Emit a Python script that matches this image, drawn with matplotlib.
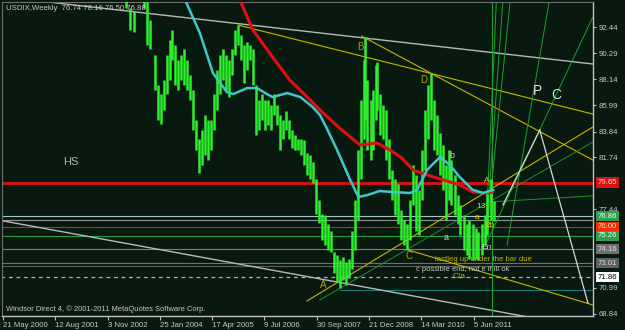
import matplotlib
matplotlib.use('Agg')
import matplotlib.pyplot as plt

plt.rcParams['font.family'] = ['Liberation Sans', 'DejaVu Sans']

# weekly bars (index = weeks since 21 May 2000), high / low
bars = [140, 150, 155, 160, 166, 172, 176, 180, 186, 190,
        193, 197, 201, 204, 207, 210, 214, 218, 222, 225,
        229, 233, 236, 240, 244, 247, 251, 255, 258, 262,
        266, 269, 273, 277, 280, 284, 288, 291, 295, 299,
        302, 306, 310, 313, 317, 321, 324, 328, 332, 335,
        339, 343, 346, 350, 354, 357, 361, 365, 368, 372,
        376, 379, 383, 387, 390, 394, 398, 401, 405, 409,
        412, 416, 420, 423, 427, 431, 434, 438, 442, 443,
        446, 450, 453, 457, 458, 461, 465, 469, 472, 476,
        480, 483, 487, 491, 494, 498, 502, 505, 509, 513,
        516, 520, 524, 527, 531, 535, 538, 542, 546, 549,
        553, 557, 560, 564, 568, 571, 575, 579, 582, 586,
        590, 593, 597, 601]
highs = [98.0, 96.5, 94.0, 93.8, 96.0, 95.5, 94.5, 93.0, 90.1, 87.7,
         86.9, 88.1, 90.1, 91.4, 92.2, 91.0, 89.7, 90.1, 90.6, 89.7,
         88.5, 87.3, 84.8, 83.2, 84.0, 85.2, 84.8, 84.8, 86.9, 88.9,
         90.1, 90.6, 90.1, 89.7, 90.6, 92.2, 92.6, 91.8, 91.0, 91.2,
         91.0, 90.6, 87.7, 86.4, 86.9, 86.4, 86.4, 86.0, 86.9, 86.0,
         85.2, 84.8, 85.5, 84.8, 84.0, 83.6, 83.2, 83.2, 83.15, 82.1,
         81.9, 81.3, 79.9, 78.2, 77.1, 77.0, 76.2, 75.7, 73.9, 73.7,
         73.3, 73.5, 73.1, 73.4, 75.7, 78.2, 82.3, 86.4, 89.7, 91.6,
         88.1, 86.4, 87.3, 89.3, 89.6, 86.9, 86.0, 85.6, 83.2, 80.7,
         79.9, 79.5, 77.4, 76.6, 76.2, 78.2, 81.1, 80.3, 79.0, 82.3,
         85.6, 87.7, 88.7, 86.4, 85.2, 83.7, 82.7, 81.1, 82.3, 81.5,
         80.3, 78.6, 77.8, 77.0, 76.2, 76.6, 76.2, 75.9, 75.6, 76.2,
         77.0, 79.0, 79.9, 78.16]
lows = [95.5, 94.0, 92.2, 92.0, 94.6, 94.0, 91.0, 90.6, 87.3, 84.8,
        84.5, 85.6, 86.9, 88.1, 89.7, 87.7, 87.3, 88.1, 87.7, 87.3,
        86.4, 84.0, 82.3, 80.4, 81.1, 81.9, 81.5, 82.3, 84.0, 85.6,
        86.9, 88.1, 87.3, 86.7, 88.5, 90.1, 91.0, 89.7, 87.8, 88.9,
        89.7, 87.7, 83.6, 84.0, 84.8, 84.0, 84.4, 84.0, 85.2, 84.4,
        82.3, 83.2, 84.0, 83.2, 82.5, 82.3, 82.3, 81.9, 81.1, 80.3,
        79.9, 79.6, 77.1, 76.3, 74.9, 74.5, 74.1, 73.9, 72.2, 71.5,
        71.0, 71.6, 71.2, 71.8, 72.5, 74.1, 76.6, 79.9, 83.2, 84.8,
        82.3, 81.5, 82.3, 84.8, 85.6, 83.6, 83.2, 81.5, 79.9, 78.2,
        77.0, 76.2, 74.9, 74.5, 74.1, 74.9, 77.8, 75.7, 75.3, 78.2,
        80.7, 83.2, 84.8, 82.3, 81.9, 80.3, 79.0, 76.6, 78.2, 77.8,
        77.0, 76.2, 75.3, 74.1, 73.7, 73.4, 73.3, 73.4, 73.3, 73.7,
        74.5, 75.3, 76.6, 76.50]

# moving averages
ma_fast_x = [223, 241, 257, 274, 282, 299, 311, 323, 330, 348, 364, 379, 388,
             395, 409, 425, 435, 446, 461, 477, 498, 507, 519, 535, 547, 559,
             575, 588, 600]
ma_fast_y = [94.66, 91.95, 88.66, 87.09, 86.93, 87.42, 87.42, 86.93, 86.68,
             87.01, 86.68, 85.86, 85.20, 84.30, 82.32, 79.86, 78.46, 78.62,
             78.95, 78.87, 78.79, 79.04, 80.68, 81.75, 81.09, 80.10, 79.04,
             78.79, 79.04]
ma_slow_x = [290, 306, 330, 351, 376, 388, 412, 437, 458, 474, 488, 502, 519,
             539, 559, 575, 588, 599]
ma_slow_y = [94.66, 92.19, 89.97, 88.08, 86.44, 85.61, 84.13, 82.74, 82.90,
             82.32, 81.67, 80.68, 80.27, 79.86, 79.45, 78.87, 78.79, 78.87]

# horizontal levels: price, colour, width, style, first bar
levels = [
    (79.65, '#e01010', 2.0, '-', -2),
    (76.86, '#a8c8c8', 0.8, '-', -2),
    (76.60, '#909090', 0.8, '-', -2),
    (76.00, '#d02020', 0.8, '-', -2),
    (75.26, '#20a040', 0.8, '-', -2),
    (74.16, '#808080', 0.8, '-', -2),
    (73.01, '#707070', 0.8, '-', -2),
    (72.80, '#606060', 0.8, '-', -2),
    (71.86, '#b0b0b0', 0.9, (0, (3, 3)), -2),
    (70.81, '#1a7a7a', 0.8, '-', 412),
]

# trend lines: (bar0, price0), (bar1, price1), colour, width
trendlines = [
    ((-1.2, 94.93), (722, 89.40), '#b8b8b8', 1.0),
    ((-1.2, 76.51), (650, 68.50), '#b8b8b8', 1.0),
    ((288, 92.60), (722, 85.28), '#c8b400', 0.8),
    ((439, 91.70), (722, 81.50), '#c8b400', 0.8),
    ((372, 69.90), (722, 84.22), '#c8b400', 0.8),
    ((496, 74.10), (722, 69.58), '#c8b400', 0.8),
    ((388, 70.00), (722, 82.98), '#1f8f2f', 0.7),
    ((595, 78.05), (722, 78.55), '#1f8f2f', 0.7),
    ((590.5, 74.5), (604, 94.7), '#1f9f2f', 0.7),
    ((590.5, 74.5), (612, 94.7), '#1f9f2f', 0.7),
    ((590.5, 74.5), (621, 94.7), '#1f9f2f', 0.7),
    ((590.5, 74.5), (722, 93.26), '#1f9f2f', 0.7),
    ((617, 74.5), (669, 94.7), '#1f9f2f', 0.7),
    ((612, 77.80), (657, 83.97), '#d8d8d8', 0.9),
    ((657, 83.97), (716, 69.74), '#d8d8d8', 0.9),
]

# chart annotations: bar, price, text, colour, size, alignment
notes = [
    (73.5, 81.3, 'HS', '#b0b0b0', 8, 'left'),
    (438, 90.8, 'B', '#b8a000', 7, 'center'),
    (515, 88.1, 'D', '#b8a000', 7, 'center'),
    (392, 71.2, 'A', '#b8a000', 7, 'center'),
    (497, 73.6, 'C', '#b8a000', 7, 'center'),
    (550, 81.9, 'b', '#d0d0d0', 6.5, 'center'),
    (542, 75.1, 'a', '#d0d0d0', 6.5, 'center'),
    (592, 79.8, 'A', '#e0d000', 6, 'center'),
    (585, 77.7, '13', '#e0d000', 6, 'center'),
    (580, 76.8, 'a', '#e0d000', 6, 'center'),
    (596, 76.1, '2b', '#e0d000', 6, 'center'),
    (592, 74.3, 'En', '#d0d0d0', 6, 'center'),
    (529, 73.3, 'lastleg up under the bar due', '#c8b400', 5.6, 'left'),
    (506, 72.5, 'c possible end, not e if ill ok', '#c8c8c8', 5.4, 'left'),
    (558, 71.95, 'C/a', '#c8b400', 6, 'center'),
    (654, 87.2, 'P', '#e0e0e0', 10, 'center'),
    (677, 86.85, 'C', '#e0e0e0', 10, 'center'),
]

grid_ticks = [92.44, 90.29, 88.14, 85.99, 83.84, 81.74, 77.44, 70.99, 68.84]
# price labels with a coloured box: price, box colour, text colour
boxed = [
    (79.65, '#e01010', '#ffd8d8'),
    (76.86, '#30a050', '#e8ffe8'),
    (76.00, '#f03000', '#ffe0d0'),
    (75.26, '#30a050', '#e8ffe8'),
    (74.16, '#707070', '#e0e0e0'),
    (73.01, '#606060', '#d8d8d8'),
    (71.86, '#ffffff', '#000000'),
]
date_pos = [0, 64, 128, 192, 256, 320, 384, 448, 512, 576]
date_labels = ['21 May 2000', '12 Aug 2001', '3 Nov 2002', '25 Jan 2004',
               '17 Apr 2005', '9 Jul 2006', '30 Sep 2007', '21 Dec 2008',
               '14 Mar 2010', '5 Jun 2011']

BG = '#081a10'
TXT = '#c8c8c8'

fig = plt.figure(figsize=(6.25, 3.3), dpi=100)
fig.patch.set_facecolor(BG)
ax = fig.add_axes([2 / 625, 1 - 316 / 330, 591 / 625, 314 / 330])
ax.set_facecolor(BG)
ax.set_xlim(-1.2, 722.2)
ax.set_ylim(68.67, 94.50)

for p, c, lw, ls, start in levels:
    ax.plot([start, 722.2], [p, p], color=c, lw=lw, ls=ls, zorder=1)

for (x0, y0), (x1, y1), c, lw in trendlines:
    ax.plot([x0, x1], [y0, y1], color=c, lw=lw, zorder=2)

ax.axvline(598.5, color='#1f9f2f', lw=0.8, zorder=2)

# price bars
ax.vlines(bars, lows, highs, color='#2ef02e', lw=1.8, zorder=3)

ax.plot(ma_slow_x, ma_slow_y, color='#e01010', lw=2.2, zorder=4)
ax.plot(ma_fast_x, ma_fast_y, color='#40c8c8', lw=1.8, zorder=4)

for x, y, s, c, fs, ha in notes:
    ax.text(x, y, s, color=c, fontsize=fs, ha=ha, va='center', zorder=6)

# axes styling
for side in ['left', 'top']:
    ax.spines[side].set_color('#707070')
    ax.spines[side].set_linewidth(0.8)
for side in ['right', 'bottom']:
    ax.spines[side].set_color('#c0c0c0')
    ax.spines[side].set_linewidth(1.0)

ax.yaxis.tick_right()
ax.set_yticks(grid_ticks)
ax.set_yticklabels(['%.2f' % v for v in grid_ticks])
ax.tick_params(axis='y', colors='#c0c0c0', labelcolor=TXT, labelsize=5.6,
               length=2, width=0.8, pad=2)
ax.set_xticks(date_pos)
ax.set_xticklabels(date_labels, ha='left')
ax.tick_params(axis='x', colors='#c0c0c0', labelcolor=TXT, labelsize=5.6,
               length=3, width=0.8, pad=1.5)

ytr = ax.get_yaxis_transform()
for p, fc, tc in boxed:
    ax.text(1.0 + 5 / 591, p, '%.2f' % p, transform=ytr, color=tc,
            fontsize=5.6, ha='left', va='center', clip_on=False,
            bbox=dict(boxstyle='square,pad=0.2', fc=fc, ec='none'))

fig.text(6 / 625, 1 - 9 / 330, 'USDIX,Weekly  76.74 78.16 76.50 76.88',
         color=TXT, fontsize=5.6, ha='left', va='center')
fig.text(6 / 625, 1 - 309 / 330,
         'Windsor Direct 4, \u00a9 2001-2011 MetaQuotes Software Corp.',
         color=TXT, fontsize=5.4, ha='left', va='center')

fig.savefig('out.png', dpi=100, facecolor=BG)
